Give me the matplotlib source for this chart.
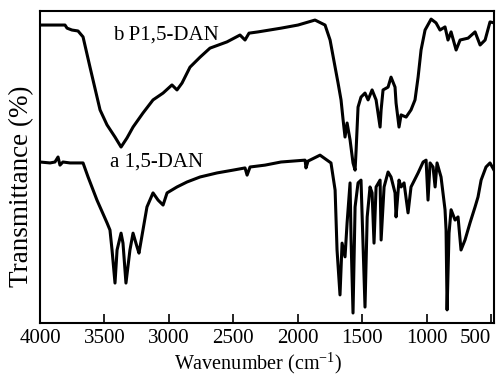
import matplotlib
matplotlib.use("Agg")
import matplotlib.pyplot as plt

plt.rcParams['font.family'] = ['Liberation Serif', 'DejaVu Serif']
plt.rcParams['mathtext.fontset'] = 'custom'
plt.rcParams['mathtext.rm'] = 'Liberation Serif'

# Curve b: P1,5-DAN (wavenumber cm^-1, transmittance arbitrary %)
wn_b = [4000, 3884, 3806, 3790, 3752, 3705, 3666, 3612, 3534, 3480, 3418, 3371, 3325, 3278,
        3201, 3123, 3045, 2976, 2937, 2898, 2836, 2758, 2681, 2549, 2448, 2409, 2378, 2308,
        2130, 1998, 1866, 1788, 1749, 1710, 1687, 1664, 1648, 1633, 1617, 1594, 1571, 1555,
        1547, 1532, 1509, 1478, 1454, 1423, 1392, 1361, 1353, 1338, 1299, 1276, 1245, 1237,
        1214, 1198, 1159, 1121, 1090, 1066, 1043, 1012, 965, 927, 896, 857, 834, 810, 771,
        740, 678, 624, 585, 546, 508, 477]
t_b = [95.5, 95.5, 95.5, 94.5, 93.9, 93.6, 91.7, 82.0, 68.3, 63.5, 59.6, 56.4, 59.3, 62.8,
       67.3, 71.5, 73.7, 76.3, 74.7, 76.9, 82.0, 85.2, 88.1, 90.1, 92.3, 90.7, 92.9, 93.3,
       94.5, 95.5, 97.1, 95.5, 90.7, 82.0, 76.9, 71.5, 65.1, 59.6, 64.1, 58.7, 51.3, 49.0,
       55.4, 69.2, 72.4, 73.7, 71.5, 74.7, 71.5, 62.8, 68.3, 74.7, 75.6, 78.8, 75.6, 70.5,
       62.8, 66.7, 66.0, 68.3, 71.5, 78.8, 87.5, 93.9, 97.4, 96.2, 93.9, 94.9, 90.7, 93.3, 87.5,
       90.7, 91.3, 93.3, 89.1, 90.7, 96.5, 96.2]

# Curve a: 1,5-DAN
wn_a = [4000, 3922, 3884, 3860, 3845, 3822, 3767, 3666, 3627, 3558, 3480, 3457, 3441, 3418,
        3402, 3371, 3356, 3333, 3302, 3278, 3247, 3232, 3201, 3170, 3123, 3084, 3045, 3014,
        2937, 2859, 2758, 2626, 2502, 2409, 2393, 2370, 2254, 2130, 1943, 1936, 1920, 1827,
        1742, 1710, 1695, 1672, 1656, 1633, 1617, 1594, 1586, 1571, 1555, 1532, 1509, 1478,
        1461, 1439, 1423, 1408, 1392, 1361, 1353, 1330, 1299, 1276, 1245, 1237, 1214, 1198,
        1175, 1144, 1121, 1066, 1027, 1004, 989, 973, 950, 934, 919, 888, 857, 849, 841, 826,
        810, 779, 756, 733, 702, 663, 624, 601, 577, 539, 508, 477]
t_a = [51.6, 51.3, 51.6, 53.2, 50.6, 51.6, 51.3, 51.3, 46.8, 39.4, 32.1, 29.8, 23.4, 12.8,
       23.4, 28.8, 25.6, 12.8, 23.4, 28.8, 24.4, 22.4, 29.8, 37.2, 41.7, 39.4, 37.8, 41.7,
       43.6, 45.2, 46.8, 48.1, 49.0, 49.7, 47.4, 50.0, 50.6, 51.6, 52.2, 49.7, 51.9, 53.8,
       51.3, 42.6, 23.4, 9.0, 25.6, 21.2, 32.1, 44.9, 26.6, 3.2, 37.2, 44.9, 45.8, 5.1,
       34.0, 43.6, 41.7, 25.6, 43.6, 45.8, 26.6, 43.6, 48.4, 46.8, 41.7, 34.0, 45.8, 43.6,
       44.9, 35.3, 43.6, 48.1, 51.6, 52.2, 39.4, 51.3, 50.0, 43.6, 51.3, 46.8, 36.3, 29.8, 4.2, 28.8,
       36.3, 33.0, 34.0, 23.4, 26.6, 32.1, 37.2, 40.4, 45.8, 50.0, 51.3, 49.0]

xticks = [4000, 3500, 3000, 2500, 2000, 1500, 1000, 500]
label_b = "b P1,5-DAN"
label_a = "a 1,5-DAN"

fig = plt.figure(figsize=(4.98, 3.77), dpi=100)
ax = fig.add_axes([40/498, 1-323/377, 454/498, 312/377])

ax.plot(wn_b, t_b, color='black', lw=2.2, solid_joinstyle='round')
ax.plot(wn_a, t_a, color='black', lw=2.2, solid_joinstyle='round')

ax.set_xlim(4000, 477)
ax.set_ylim(0, 100)
ax.set_xticks(xticks)
ax.set_xticklabels([str(v) for v in xticks])
ax.set_yticks([])
ax.tick_params(axis='x', direction='in', length=6.5, width=1.2, labelsize=15, pad=4)
ax.get_xticklabels()[-1].set_horizontalalignment('right')
for s in ax.spines.values():
    s.set_linewidth(1.5)

ax.text(3022, 90.7, label_b, fontsize=15, ha='center', va='baseline')
ax.text(3092, 50.0, label_a, fontsize=15, ha='center', va='baseline')

ax.set_xlabel(r"Wavenumber (cm$^{-1}$)", fontsize=14.5, labelpad=2)
ax.xaxis.label.set_x(0.48)
ax.set_ylabel("Transmittance (%)", fontsize=19.5)
ax.yaxis.set_label_coords(-0.013, 0.439)

fig.savefig("out.png", dpi=100)
